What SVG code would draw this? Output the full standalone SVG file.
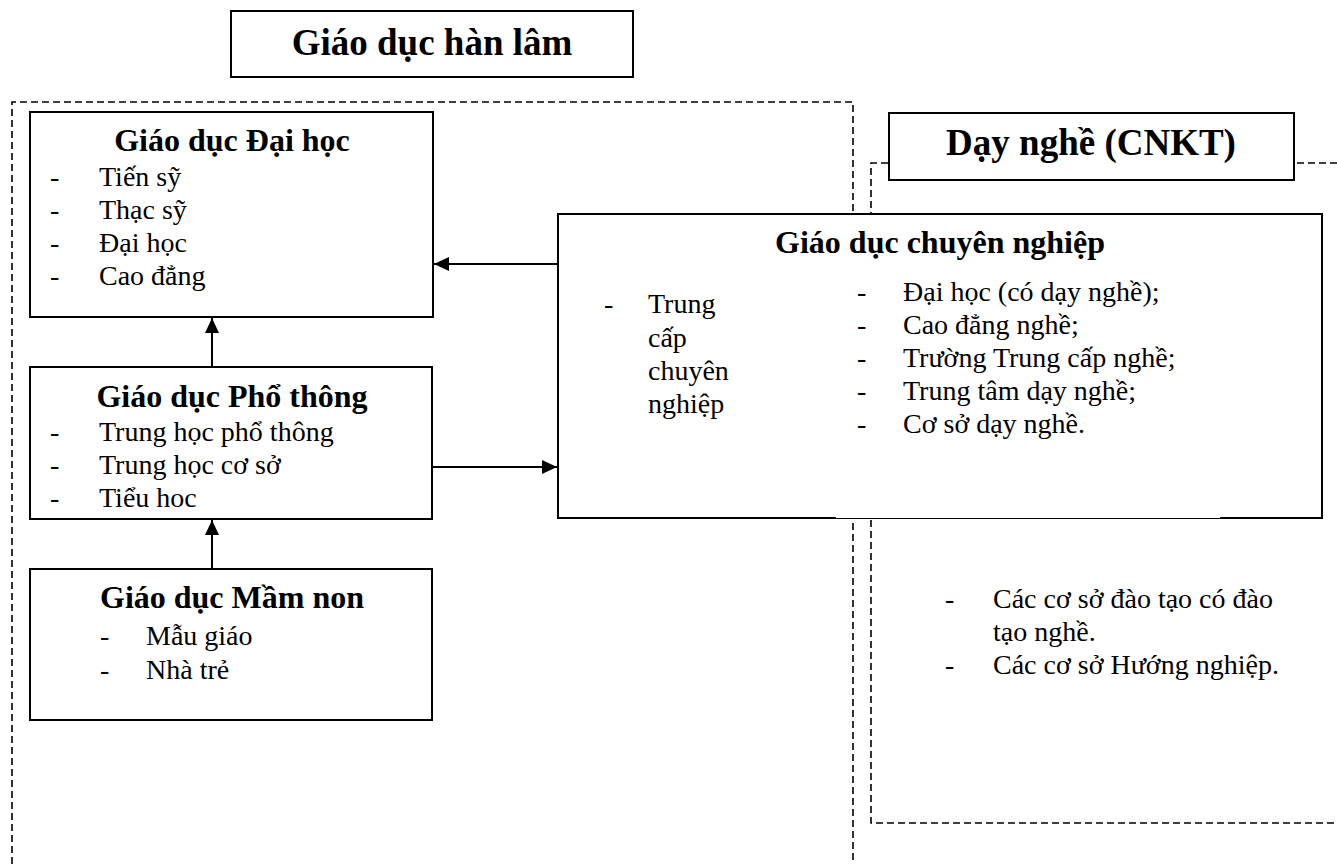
<svg xmlns="http://www.w3.org/2000/svg" width="1337" height="864" viewBox="0 0 1337 864">
<style>
.box{fill:#fff;stroke:#000;stroke-width:2}
.dash{fill:none;stroke:#000;stroke-width:1.6;stroke-dasharray:7 4}
.t{font-family:"Liberation Serif","Times New Roman",serif;font-size:28px;fill:#000}
.b{font-family:"Liberation Serif","Times New Roman",serif;font-size:32px;font-weight:bold;fill:#000;text-anchor:middle}
.bl{font-size:37px}
.con{stroke:#000;stroke-width:2;fill:none}
</style>
<defs>
<marker id="ah" viewBox="0 0 15 14" refX="15" refY="7" markerWidth="15" markerHeight="14" markerUnits="userSpaceOnUse" orient="auto">
<path d="M0,0 L15,7 L0,14 z" fill="#000"/>
</marker>
</defs>
<rect width="1337" height="864" fill="#fff"/>
<g id="regions">
<path class="dash" d="M12,864 V102 H853 V864"/>
<path class="dash" d="M888,163 H871 V823 H1337"/>
<path class="dash" d="M1297,163 H1337"/>
</g>
<g id="title-hanlam">
<rect class="box" x="231" y="11" width="402" height="66"/>
<text class="b bl" x="432" y="55">Giáo dục hàn lâm</text>
</g>
<g id="title-daynghe">
<rect class="box" x="889" y="113" width="405" height="67"/>
<text class="b bl" x="1091" y="155">Dạy nghề (CNKT)</text>
</g>
<g id="daihoc">
<rect class="box" x="30" y="112" width="403" height="205"/>
<text class="b" x="232" y="151">Giáo dục Đại học</text>
<text class="t" x="50" y="186">-</text><text class="t" x="99" y="186">Tiến sỹ</text>
<text class="t" x="50" y="219">-</text><text class="t" x="99" y="219">Thạc sỹ</text>
<text class="t" x="50" y="252">-</text><text class="t" x="99" y="252">Đại học</text>
<text class="t" x="50" y="285">-</text><text class="t" x="99" y="285">Cao đẳng</text>
</g>
<g id="phothong">
<rect class="box" x="30" y="367" width="402" height="152"/>
<text class="b" x="232" y="407">Giáo dục Phổ thông</text>
<text class="t" x="50" y="441">-</text><text class="t" x="99" y="441">Trung học phổ thông</text>
<text class="t" x="50" y="474">-</text><text class="t" x="99" y="474">Trung học cơ sở</text>
<text class="t" x="50" y="507">-</text><text class="t" x="99" y="507">Tiểu hoc</text>
</g>
<g id="mamnon">
<rect class="box" x="30" y="569" width="402" height="151"/>
<text class="b" x="232" y="608">Giáo dục Mầm non</text>
<text class="t" x="100" y="645">-</text><text class="t" x="146" y="645">Mẫu giáo</text>
<text class="t" x="100" y="679">-</text><text class="t" x="146" y="679">Nhà trẻ</text>
</g>
<g id="chuyennghiep">
<rect class="box" x="558" y="214" width="764" height="304"/>
<line x1="836" y1="518" x2="1220" y2="518" stroke="#fff" stroke-width="2.2"/>
<line x1="836" y1="518.5" x2="1220" y2="518.5" stroke="#000" stroke-width="1"/>
<text class="b" x="940" y="253">Giáo dục chuyên nghiệp</text>
<text class="t" x="604" y="313">-</text>
<text class="t" x="648" y="313">Trung</text>
<text class="t" x="648" y="347">cấp</text>
<text class="t" x="648" y="380">chuyên</text>
<text class="t" x="648" y="413">nghiệp</text>
<text class="t" x="857" y="301">-</text><text class="t" x="903" y="301">Đại học (có dạy nghề);</text>
<text class="t" x="857" y="334">-</text><text class="t" x="903" y="334">Cao đẳng nghề;</text>
<text class="t" x="857" y="367">-</text><text class="t" x="903" y="367">Trường Trung cấp nghề;</text>
<text class="t" x="857" y="400">-</text><text class="t" x="903" y="400">Trung tâm dạy nghề;</text>
<text class="t" x="857" y="433">-</text><text class="t" x="903" y="433">Cơ sở dạy nghề.</text>
</g>
<g id="cacoso">
<text class="t" x="945" y="608">-</text><text class="t" x="993" y="608">Các cơ sở đào tạo có đào</text>
<text class="t" x="993" y="641">tạo nghề.</text>
<text class="t" x="945" y="674">-</text><text class="t" x="993" y="674">Các cơ sở Hướng nghiệp.</text>
</g>
<g id="connectors">
<line class="con" x1="212" y1="367" x2="212" y2="318" marker-end="url(#ah)"/>
<line class="con" x1="212" y1="569" x2="212" y2="520" marker-end="url(#ah)"/>
<line class="con" x1="432" y1="467" x2="557" y2="467" marker-end="url(#ah)"/>
<line class="con" x1="558" y1="264" x2="434" y2="264" marker-end="url(#ah)"/>
</g>
</svg>
